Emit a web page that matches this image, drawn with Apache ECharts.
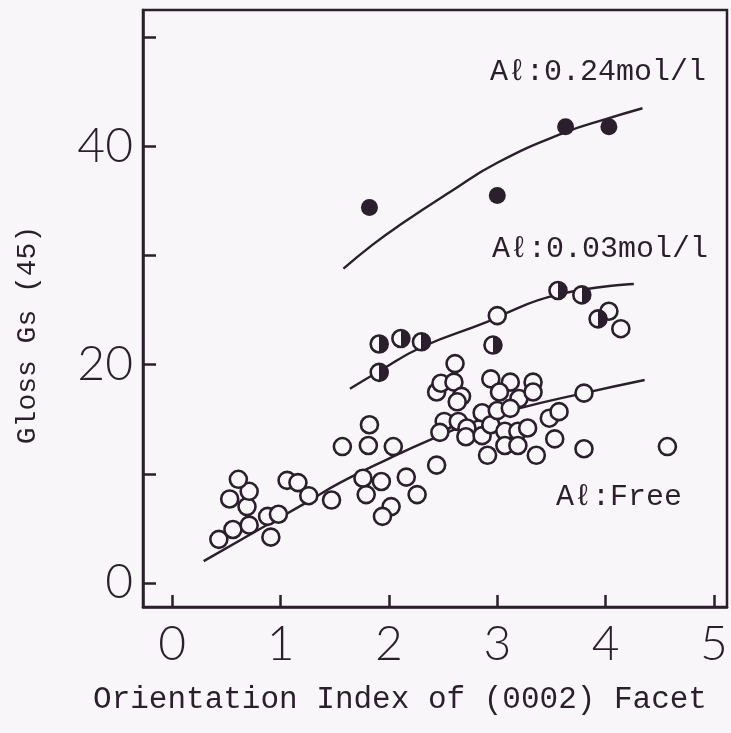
<!DOCTYPE html>
<html>
<head>
<meta charset="utf-8">
<title>Gloss vs Orientation Index</title>
<script src="https://cdn.jsdelivr.net/npm/echarts@6/dist/echarts.min.js"></script>
<style>
html, body { margin: 0; padding: 0; background: #f8f6f8; }
#main { width: 731px; height: 733px; }
</style>
</head>
<body>
<div id="main"></div>
<script>
// Al: 0.24 mol/l  (solid dots)
var al024X = [1.82, 3.00, 3.63, 4.03];
var al024Y = [34.4, 35.5, 41.8, 41.8];
var al024CurveX = [1.58, 1.85, 2.10, 2.56, 3.00, 3.63, 4.00, 4.34];
var al024CurveY = [28.8, 31.0, 32.8, 35.8, 38.5, 41.3, 42.5, 43.5];

// Al: 0.03 mol/l  (half filled + a few open)
var al003X = [1.91, 1.91, 2.11, 2.30, 2.96, 3.56, 3.78, 3.93];
var al003Y = [19.3, 21.9, 22.4, 22.1, 21.8, 26.8, 26.4, 24.2];
var al003OpenX = [3.00, 4.03, 4.14];
var al003OpenY = [24.5, 24.9, 23.3];
var al003CurveX = [1.64, 1.91, 2.30, 2.90, 3.00, 3.55, 4.26];
var al003CurveY = [17.8, 19.4, 21.6, 23.9, 24.4, 26.4, 27.4];

// Al: Free  (open circles)
var freeX = [0.43, 0.56, 0.71, 0.69, 0.53, 0.71, 0.61, 0.88, 0.98, 0.91, 1.06, 1.16, 1.26, 1.47, 1.57,
             1.82, 1.81, 2.04, 1.76, 1.93, 1.79, 2.16, 2.26, 2.02, 1.94, 2.44,
             2.44, 2.48, 2.61, 2.60, 2.67, 2.63, 2.51, 2.47, 2.64, 2.72, 2.71, 2.86, 2.86, 2.94, 2.91,
             2.94, 3.12, 3.33, 3.02, 3.20, 3.33, 3.00, 3.12, 3.07, 3.19, 3.28, 3.07, 3.19, 3.36,
             3.53, 3.48, 3.57, 3.80, 3.80, 4.57];
var freeY = [4.0, 4.9, 5.3, 7.0, 7.7, 8.4, 9.5, 6.1, 6.3, 4.2, 9.4, 9.2, 8.0, 7.6, 12.5,
             14.5, 12.6, 12.5, 9.6, 9.3, 8.1, 9.7, 8.1, 7.0, 6.1, 10.8,
             17.5, 18.3, 20.1, 18.4, 17.1, 16.6, 14.8, 13.8, 14.8, 14.2, 13.4, 15.6, 13.5, 14.5, 11.7,
             18.7, 18.4, 18.4, 17.5, 16.9, 17.5, 15.8, 16.0, 13.9, 13.9, 14.2, 12.6, 12.6, 11.7,
             13.2, 15.1, 15.7, 17.4, 12.3, 12.5];
var freeCurveX = [0.29, 0.80, 1.26, 1.55, 2.00, 2.40, 2.80, 3.20, 3.80, 4.36];
var freeCurveY = [2.0, 4.9, 7.5, 9.2, 11.4, 13.2, 14.8, 16.0, 17.4, 18.6];

var xTicks = [0, 1, 2, 3, 4, 5];
var yTicks = [0, 10, 20, 30, 40, 50];
var yLabels = [0, 20, 40];

var ink = '#2b1f2d';
var paper = '#f8f6f8';

function zip(xs, ys) {
    return xs.map(function (x, i) { return [x, ys[i]]; });
}

var myChart = echarts.init(document.getElementById('main'));

// left half paper, right half ink
var halfFill = {
    type: 'linear', x: 0, y: 0, x2: 1, y2: 0,
    colorStops: [
        { offset: 0, color: paper }, { offset: 0.5, color: paper },
        { offset: 0.5, color: ink }, { offset: 1, color: ink }
    ]
};

var monoFont = '30px "Liberation Mono", "DejaVu Sans Mono", monospace';

var option = {
    backgroundColor: paper,
    animation: false,
    grid: {
        left: 143, right: 4, top: 10, bottom: 126,
        show: true, borderColor: ink, borderWidth: 2.5
    },
    xAxis: {
        type: 'value',
        min: -0.27, max: 5.12,
        axisLine: { show: true, onZero: false, lineStyle: { color: ink, width: 2.5 } },
        axisTick: { show: true, inside: true, length: 12, customValues: xTicks, lineStyle: { color: ink, width: 2.5 } },
        axisLabel: { customValues: xTicks, color: ink, fontSize: 48, fontFamily: 'Lato', fontWeight: 300, margin: 14 },
        splitLine: { show: false }
    },
    yAxis: {
        type: 'value',
        min: -2.2, max: 52.5,
        axisLine: { show: true, onZero: false, lineStyle: { color: ink, width: 2.5 } },
        axisTick: { show: true, inside: true, length: 13, customValues: yTicks, lineStyle: { color: ink, width: 2.5 } },
        axisLabel: { customValues: yLabels, color: ink, fontSize: 48, fontFamily: 'Lato', fontWeight: 300, margin: 10 },
        splitLine: { show: false }
    },
    series: [
        { type: 'line', data: zip(al024CurveX, al024CurveY), smooth: true, showSymbol: false,
          lineStyle: { color: ink, width: 2.4 }, z: 1 },
        { type: 'line', data: zip(al003CurveX, al003CurveY), smooth: true, showSymbol: false,
          lineStyle: { color: ink, width: 2.4 }, z: 1 },
        { type: 'line', data: zip(freeCurveX, freeCurveY), smooth: true, showSymbol: false,
          lineStyle: { color: ink, width: 2.4 }, z: 1 },
        { type: 'scatter', data: zip(freeX, freeY), symbol: 'circle', symbolSize: 17,
          itemStyle: { color: paper, borderColor: ink, borderWidth: 2.6, opacity: 1 }, z: 3 },
        { type: 'scatter', data: zip(al003OpenX, al003OpenY), symbol: 'circle', symbolSize: 17,
          itemStyle: { color: paper, borderColor: ink, borderWidth: 2.6, opacity: 1 }, z: 3 },
        { type: 'scatter', data: zip(al003X, al003Y), symbol: 'circle', symbolSize: 17,
          itemStyle: { color: halfFill, borderColor: ink, borderWidth: 2.6, opacity: 1 }, z: 4 },
        { type: 'scatter', data: zip(al024X, al024Y), symbol: 'circle', symbolSize: 17,
          itemStyle: { color: ink, opacity: 1 }, z: 4 }
    ],
    graphic: [
        { type: 'text', x: 28, y: 335, rotation: Math.PI / 2,
          style: { text: 'Gloss Gs (45)', font: '28px "Liberation Mono", monospace', fill: ink, textAlign: 'center', textVerticalAlign: 'middle' } },
        { type: 'text', x: 400, y: 700,
          style: { text: 'Orientation Index of (0002) Facet', font: '31px "Liberation Mono", monospace', fill: ink, textAlign: 'center', textVerticalAlign: 'middle' } },
        { type: 'text', x: 490, y: 72,
          style: { text: 'Aℓ:0.24mol/l', font: monoFont, fill: ink, textAlign: 'left', textVerticalAlign: 'middle' } },
        { type: 'text', x: 492, y: 249,
          style: { text: 'Aℓ:0.03mol/l', font: monoFont, fill: ink, textAlign: 'left', textVerticalAlign: 'middle' } },
        { type: 'text', x: 556, y: 497,
          style: { text: 'Aℓ:Free', font: monoFont, fill: ink, textAlign: 'left', textVerticalAlign: 'middle' } }
    ]
};

myChart.setOption(option);
window.addEventListener('resize', function () {
    myChart.resize();
});
</script>
</body>
</html>
